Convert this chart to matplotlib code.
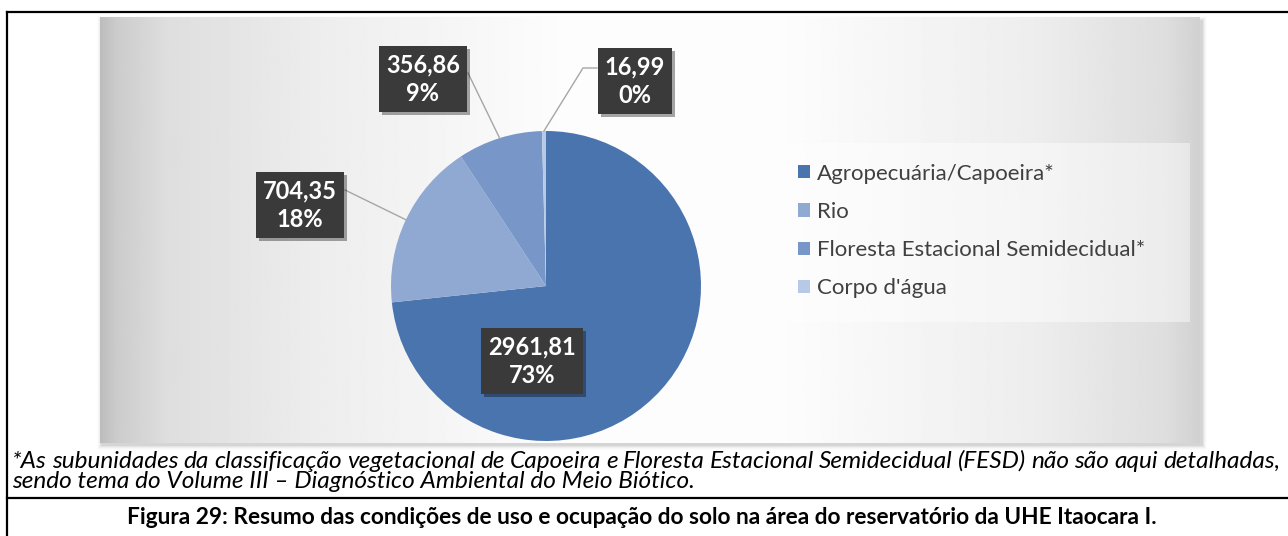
import numpy as np
import matplotlib.pyplot as plt
from matplotlib.patches import Rectangle
import matplotlib.patheffects as pe

plt.rcParams['font.family'] = ['Lato', 'DejaVu Sans']

W, H = 1288, 536

categorias = ['Agropecuária/Capoeira*', 'Rio', 'Floresta Estacional Semidecidual*', "Corpo d'água"]
areas = [2961.81, 704.35, 356.86, 16.99]
percentuais = ['73%', '18%', '9%', '0%']
cores = ['#4a74ae', '#8fa9d3', '#7897c8', '#b7c9e6']

nota1 = ("*As subunidades da classificação vegetacional de Capoeira e Floresta Estacional "
         "Semidecidual (FESD) não são aqui detalhadas,")
nota2 = "sendo tema do Volume III – Diagnóstico Ambiental do Meio Biótico."
titulo = ("Figura 29: Resumo das condições de uso e ocupação do solo na área do "
          "reservatório da UHE Itaocara I.")

fig = plt.figure(figsize=(W / 100, H / 100), dpi=100)
ax = fig.add_axes([0, 0, 1, 1])


def yy(y):
    # linhas da página (de cima para baixo) -> y do eixo
    return H - y


# fundo do gráfico com degradê horizontal e sombra
x0, x1, y0, y1 = 100, 1200, 17, 443
for i, a in enumerate([0.06, 0.045, 0.03, 0.02, 0.01]):
    ax.add_patch(Rectangle((x0 + 1 - i, yy(y1) - 3 - i), (x1 - x0) + 2 + 2 * i, (y1 - y0) + 2 * i,
                           fc='black', ec='none', alpha=a, zorder=0.5))
perfil = np.interp(np.linspace(0, 1, 800),
                   [0, 0.015, 0.06, 0.2, 0.42, 0.62, 0.85, 0.97, 1],
                   [0.74, 0.80, 0.87, 0.93, 0.99, 0.99, 0.93, 0.87, 0.82])
ax.imshow(np.tile(perfil, (2, 1)), cmap='gray', vmin=0, vmax=1, aspect='auto',
          extent=(x0, x1, yy(y1), yy(y0)), interpolation='bilinear', zorder=1)

# área clara da legenda
ax.add_patch(Rectangle((768, yy(322)), 1190 - 768, 322 - 143, fc='white', ec='none',
                       alpha=0.45, zorder=1.5))

# pizza
fatias, _ = ax.pie(areas, colors=cores, startangle=90, counterclock=False,
                   center=(546, yy(286)), radius=155, frame=True,
                   wedgeprops=dict(linewidth=0, zorder=2))


def borda(w):
    t = np.deg2rad((w.theta1 + w.theta2) / 2)
    return w.center[0] + w.r * np.cos(t), w.center[1] + w.r * np.sin(t)


# rótulos em caixas escuras
rotulos = [f"{v:.2f}".replace('.', ',') + "\n" + p for v, p in zip(areas, percentuais)]
centros = [(532, 361), (300, 205), (423, 79), (635, 81)]
guias = [[], [(345, 190)], [(468, 73)], [(597, 68), (583, 68)]]

for fatia, rot, (cx, cy), guia in zip(fatias, rotulos, centros, guias):
    if guia:
        px, py = borda(fatia)
        xs = [g[0] for g in guia] + [px]
        ys = [yy(g[1]) for g in guia] + [py]
        ax.plot(xs, ys, color='#a6a6a6', lw=1, zorder=3)
    t = ax.text(cx, yy(cy), rot, ha='center', va='center', color='white', fontsize=17,
                fontweight='bold', linespacing=1.3, zorder=5,
                bbox=dict(boxstyle='square,pad=0.3', fc='#3a3a3a', ec='none'))
    t.get_bbox_patch().set_path_effects([
        pe.SimplePatchShadow(offset=(2, -2), shadow_rgbFace='black', alpha=0.35), pe.Normal()])

# legenda
leg = ax.legend(fatias, categorias, loc='center left', bbox_to_anchor=(798, yy(231)),
                bbox_transform=ax.transData, frameon=False, fontsize=16,
                labelspacing=0.82, handlelength=0.55, handleheight=0.55,
                handletextpad=0.3, borderpad=0, borderaxespad=0, labelcolor='#404040')
leg.set_zorder(6)

# nota de rodapé: tamanho ajustado pela segunda linha, primeira linha justificada
r = fig.canvas.get_renderer()
t2 = ax.text(12, yy(482), nota2, fontsize=15, style='italic', va='center', ha='left')
fs_nota = 15 * 685 / t2.get_window_extent(r).width
t2.set_fontsize(fs_nota)

palavras = nota1.split()
objs = [ax.text(0, yy(461), p, fontsize=fs_nota, style='italic', va='center', ha='left')
        for p in palavras]
larg = [o.get_window_extent(r).width for o in objs]
folga = (1280 - 12 - sum(larg)) / (len(palavras) - 1)
xpos = 12
for o, w in zip(objs, larg):
    o.set_x(xpos)
    xpos += w + folga

tt = ax.text(642, yy(517), titulo, fontsize=16, fontweight='bold', va='center', ha='center')
tt.set_fontsize(16 * 1030 / tt.get_window_extent(r).width)

# moldura da tabela
ax.plot([7, W], [yy(12), yy(12)], color='black', lw=1.6, zorder=7, solid_capstyle='projecting')
ax.plot([7, 7], [yy(12), 0], color='black', lw=1.6, zorder=7, solid_capstyle='projecting')
ax.plot([7, W], [yy(498), yy(498)], color='black', lw=1.6, zorder=7)

ax.set_xlim(0, W)
ax.set_ylim(0, H)
ax.set_aspect('auto')
ax.axis('off')

fig.savefig('out.png', dpi=100)
